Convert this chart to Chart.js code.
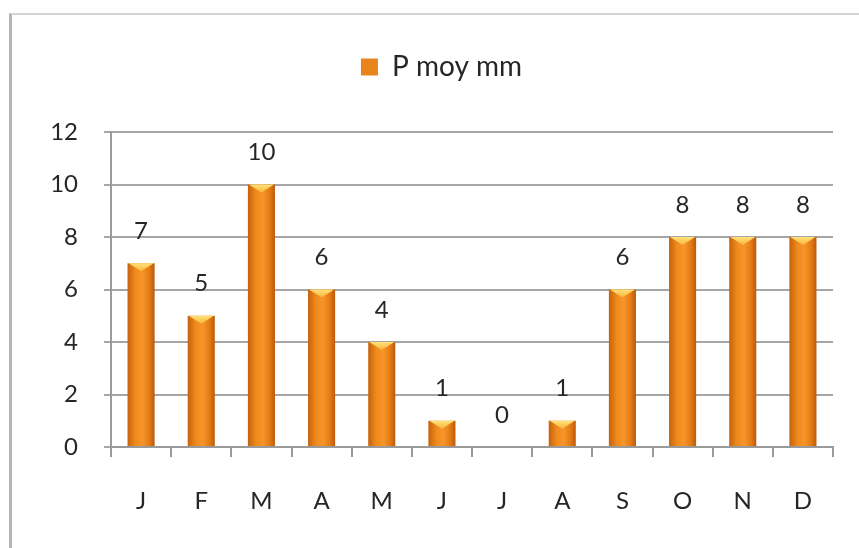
<!DOCTYPE html>
<html>
<head>
<meta charset="utf-8">
<script src="https://cdn.jsdelivr.net/npm/chart.js@4/dist/chart.umd.min.js"></script>
<style>
  html, body { margin: 0; padding: 0; background: #fff; }
  #wrap { position: relative; width: 859px; height: 548px; overflow: hidden; }
  #frame { position: absolute; left: 9px; top: 13px; width: 900px; height: 600px;
           border-left: 3px solid #b4b4b4; border-top: 2px solid #d4d4d4; }
  canvas { position: absolute; left: 0; top: 0; }
</style>
</head>
<body>
<div id="wrap">
  <div id="frame"></div>
  <canvas id="c" width="859" height="548"></canvas>
</div>
<script>
// Mean monthly precipitation (mm)
const months = ['J', 'F', 'M', 'A', 'M', 'J', 'J', 'A', 'S', 'O', 'N', 'D'];
const precip = [7, 5, 10, 6, 4, 1, 0, 1, 6, 8, 8, 8];
const seriesName = 'P moy mm';
const yTicks = [0, 2, 4, 6, 8, 10, 12];

const FONT = 'Lato, "Open Sans", "Liberation Sans", sans-serif';
const TEXT = '#262626';

// Horizontal shading across each bar: darker edges, bright orange middle
function barFill(context) {
  const chart = context.chart;
  const xs = chart.scales.x;
  if (!xs || context.dataIndex === undefined) return '#ef8a1f';
  const cx = xs.getPixelForValue(context.dataIndex);
  const half = 14;
  const g = chart.ctx.createLinearGradient(cx - half, 0, cx + half, 0);
  g.addColorStop(0, '#c2600c');
  g.addColorStop(0.3, '#f08a1c');
  g.addColorStop(0.55, '#f7952a');
  g.addColorStop(0.8, '#e37a14');
  g.addColorStop(1, '#b8560a');
  return g;
}

// Light bevel cap on top of each bar, plus value labels
const barDecor = {
  id: 'barDecor',
  afterLayout(chart) {
    // nudge the legend a little to the right of the canvas centre
    if (chart.legend) {
      chart.legend.left += 10;
      chart.legend.right += 10;
    }
  },
  afterDatasetsDraw(chart) {
    const ctx = chart.ctx;
    const meta = chart.getDatasetMeta(0);
    meta.data.forEach((bar, i) => {
      const p = bar.getProps(['x', 'y', 'base', 'width'], true);
      const h = p.base - p.y;
      if (h > 2) {
        const left = p.x - p.width / 2, right = p.x + p.width / 2;
        const d = Math.min(8, h / 2);
        ctx.save();
        const g = ctx.createLinearGradient(0, p.y, 0, p.y + d);
        g.addColorStop(0, '#ffe27a');
        g.addColorStop(1, '#f9b53a');
        ctx.fillStyle = g;
        ctx.beginPath();
        ctx.moveTo(left + 1, p.y);
        ctx.lineTo(right - 1, p.y);
        ctx.lineTo(p.x, p.y + d);
        ctx.closePath();
        ctx.fill();
        ctx.restore();
      }
      ctx.save();
      ctx.font = '24px ' + FONT;
      ctx.fillStyle = TEXT;
      ctx.textAlign = 'center';
      ctx.textBaseline = 'middle';
      ctx.fillText(String(precip[i]), p.x, p.y - 32);
      ctx.restore();
    });
  }
};

new Chart(document.getElementById('c'), {
  type: 'bar',
  data: {
    labels: months,
    datasets: [{
      label: seriesName,
      data: precip,
      backgroundColor: barFill,
      borderWidth: 0,
      barPercentage: 0.9,
      categoryPercentage: 0.5
    }]
  },
  options: {
    responsive: false,
    animation: false,
    devicePixelRatio: 1,
    layout: { padding: { left: 30, right: 26, top: 0, bottom: 0 } },
    plugins: {
      tooltip: { enabled: false },
      // empty spacer between legend and plot
      title: {
        display: true,
        text: ' ',
        weight: 500,
        position: 'top',
        font: { size: 10 },
        padding: { top: 0, bottom: 29 }
      },
      legend: {
        position: 'top',
        labels: {
          font: { family: FONT, size: 28 },
          color: TEXT,
          boxWidth: 17,
          boxHeight: 17,
          padding: 53,
          generateLabels() {
            return [{
              text: seriesName,
              fillStyle: '#e8841c',
              strokeStyle: '#c86a10',
              lineWidth: 0,
              fontColor: TEXT,
              datasetIndex: 0
            }];
          }
        }
      }
    },
    scales: {
      x: {
        offset: true,
        afterFit(s) { s.height = 101; },
        grid: {
          offset: true,
          drawOnChartArea: false,
          drawTicks: true,
          tickLength: 10,
          color: '#9a9a9a',
          lineWidth: 2
        },
        border: { display: true, color: '#9a9a9a', width: 2 },
        ticks: {
          font: { family: FONT, size: 24 },
          color: TEXT,
          padding: 30
        }
      },
      y: {
        min: 0,
        max: 12,
        afterFit(s) { s.width = 81; },
        afterBuildTicks(s) { s.ticks = yTicks.map(v => ({ value: v })); },
        grid: {
          color: '#a6a6a6',
          lineWidth: 2,
          tickLength: 7
        },
        border: { display: true, color: '#9a9a9a', width: 2 },
        ticks: {
          font: { family: FONT, size: 24 },
          color: TEXT,
          padding: 26
        }
      }
    }
  },
  plugins: [barDecor]
});
</script>
</body>
</html>
